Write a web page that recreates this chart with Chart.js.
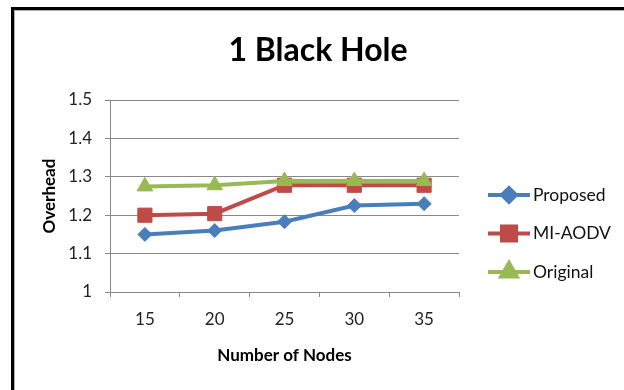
<!DOCTYPE html>
<html>
<head>
<meta charset="utf-8">
<script src="https://cdn.jsdelivr.net/npm/chart.js@4/dist/chart.umd.min.js"></script>
<style>
  body { margin: 0; background: #fff; }
  #wrap { position: relative; width: 624px; height: 390px; overflow: hidden; }
  #frame {
    position: absolute; left: 11px; top: 7px; width: 700px; height: 500px;
    border-left: 3px solid #000; border-top: 3px solid #000;
    box-shadow: inset 1px 1px 0 #b0b0b0;
    pointer-events: none;
  }
</style>
</head>
<body>
<div id="wrap">
  <canvas id="chart" width="624" height="390"></canvas>
  <div id="frame"></div>
</div>
<script>
const nodes = ['15', '20', '25', '30', '35'];
const proposed = [1.15, 1.16, 1.183, 1.225, 1.23];
const miAodv = [1.2, 1.204, 1.278, 1.278, 1.278];
const original = [1.275, 1.278, 1.289, 1.289, 1.289];

const FONT = 'Lato, "Liberation Sans", sans-serif';

function series(label, data, color, style, radius, order) {
    return {
        label: label,
        data: data,
        borderColor: color,
        backgroundColor: color,
        borderWidth: 4,
        pointStyle: style,
        pointRadius: radius,
        pointHoverRadius: radius,
        pointBorderWidth: 1,
        pointBorderColor: color,
        pointBackgroundColor: color,
        tension: 0,
        order: order
    };
}

// legend with line + marker, like the original
const lineLegend = {
    id: 'lineLegend',
    afterDraw(chart) {
        const ctx = chart.ctx;
        const x0 = chart.chartArea.right + 29;
        let y = 195;
        ctx.save();
        chart.data.datasets.forEach(ds => {
            ctx.strokeStyle = ds.borderColor;
            ctx.lineWidth = 4;
            ctx.beginPath();
            ctx.moveTo(x0, y);
            ctx.lineTo(x0 + 42, y);
            ctx.stroke();
            ctx.fillStyle = ds.backgroundColor;
            Chart.helpers.drawPoint(ctx, {
                pointStyle: ds.pointStyle,
                radius: ds.pointRadius,
                borderWidth: 1,
                rotation: 0
            }, x0 + 21, y);
            ctx.fillStyle = '#111';
            ctx.font = '17.5px ' + FONT;
            ctx.textAlign = 'left';
            ctx.textBaseline = 'middle';
            ctx.fillText(ds.label, x0 + 45, y);
            y += 38.5;
        });
        ctx.restore();
    }
};

new Chart(document.getElementById('chart').getContext('2d'), {
    type: 'line',
    data: {
        labels: nodes,
        datasets: [
            series('Proposed', proposed, '#4a7ebb', 'rectRot', 7, 2),
            series('MI-AODV', miAodv, '#be4b48', 'rect', 10, 1),
            series('Original', original, '#98b954', 'triangle', 9, 0)
        ]
    },
    options: {
        responsive: false,
        animation: false,
        layout: { padding: { left: 12, right: 0, top: 0, bottom: 0 } },
        plugins: {
            legend: { display: false },
            tooltip: { enabled: false },
            title: {
                display: true,
                text: '1 Black Hole',
                color: '#000',
                font: { family: FONT, size: 32, weight: 'bold' },
                padding: { top: 31, bottom: 30.6 }
            }
        },
        scales: {
            x: {
                offset: true,
                afterFit(scale) { scale.height = 98; },
                grid: { drawOnChartArea: false, drawTicks: true, tickLength: 5, offset: true, color: '#888' },
                border: { color: '#888' },
                ticks: { color: '#222', font: { family: FONT, size: 17 }, padding: 12 },
                title: {
                    display: true,
                    text: 'Number of Nodes',
                    color: '#000',
                    font: { family: FONT, size: 17, weight: 'bold' },
                    padding: { top: 0, bottom: 24 }
                }
            },
            y: {
                min: 1,
                max: 1.5,
                afterFit(scale) { scale.width = 98; },
                grid: { color: '#888', tickLength: 5 },
                border: { color: '#888' },
                ticks: {
                    stepSize: 0.1,
                    color: '#222',
                    font: { family: FONT, size: 17 },
                    padding: 13,
                    callback: v => String(Math.round(v * 10) / 10)
                },
                title: {
                    display: true,
                    text: 'Overhead',
                    color: '#000',
                    font: { family: FONT, size: 17, weight: 'bold' },
                    padding: { top: 27, bottom: 0 }
                }
            },
            // empty right-hand axis that keeps room for the legend
            legendSpace: {
                type: 'linear',
                position: 'right',
                afterFit(scale) { scale.width = 165; },
                grid: { display: false },
                border: { display: false },
                ticks: { display: false }
            }
        }
    },
    plugins: [lineLegend]
});
</script>
</body>
</html>
